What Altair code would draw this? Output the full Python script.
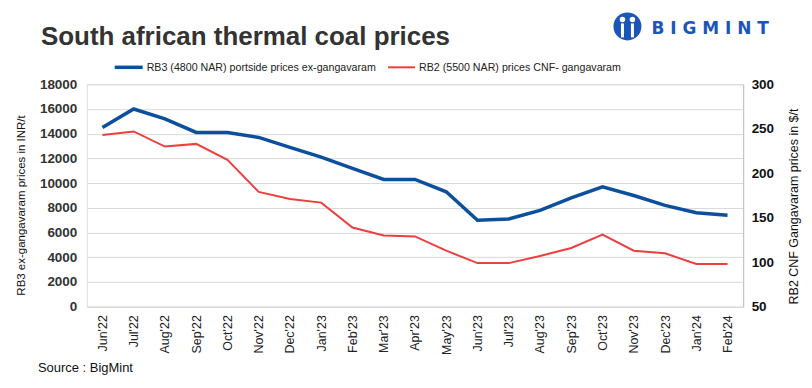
import altair as alt
import pandas as pd

months = ["Jun'22", "Jul'22", "Aug'22", "Sep'22", "Oct'22", "Nov'22", "Dec'22",
          "Jan'23", "Feb'23", "Mar'23", "Apr'23", "May'23", "Jun'23", "Jul'23",
          "Aug'23", "Sep'23", "Oct'23", "Nov'23", "Dec'23", "Jan'24", "Feb'24"]
rb3_inr = [14500, 16000, 15200, 14100, 14100, 13700, 12900, 12100, 11200, 10300, 10300,
           9300, 7000, 7100, 7800, 8800, 9700, 9000, 8200, 7600, 7400]
rb2_usd = [243, 247, 230, 233, 215, 179, 171, 167, 139, 130, 129,
           113, 99, 99, 107, 116, 131, 113, 110, 98, 98]
left_ticks = [0, 2000, 4000, 6000, 8000, 10000, 12000, 14000, 16000, 18000]
right_ticks = [50, 100, 150, 200, 250, 300]

BLUE = "#0B4F9E"
RED = "#EE3E3E"
GRID = "#D9D9D9"

df = pd.DataFrame({"month": months, "rb3": rb3_inr, "rb2": rb2_usd})
one = pd.DataFrame({"k": [0]})

W, H = 658, 223

xenc = alt.X("month:O", sort=months, scale=alt.Scale(padding=0.5),
             axis=alt.Axis(title=None, labelAngle=-90, labelFontSize=12.5,
                           labelColor="#222222", labelFont="Liberation Sans",
                           labelPadding=8, ticks=False, domain=True,
                           domainColor=GRID, grid=False))

blue = alt.Chart(df).mark_line(color=BLUE, strokeWidth=3.5).encode(
    x=xenc,
    y=alt.Y("rb3:Q", scale=alt.Scale(domain=[0, 18000], nice=False),
            axis=alt.Axis(title="RB3 ex-gangavaram prices in INR/t", values=left_ticks,
                          format="d",
                          orient="left", grid=True, gridColor=GRID, domain=False,
                          ticks=False, labelFontWeight="bold", labelFontSize=13.5,
                          labelColor="#333333", labelFont="Liberation Sans",
                          labelPadding=10, titleFontSize=11.5, titleFontWeight="normal",
                          titleColor="#111111", titleFont="Liberation Sans",
                          titleAngle=270, titleBaseline="middle",
                          titleX=-65, titleY=121)),
)

red = alt.Chart(df).mark_line(color=RED, strokeWidth=2).encode(
    x=xenc,
    y=alt.Y("rb2:Q", scale=alt.Scale(domain=[50, 300], nice=False),
            axis=alt.Axis(title="RB2 CNF Gangavaram prices in $/t", values=right_ticks,
                          orient="right", grid=False, domain=True, domainColor="#BFBFBF",
                          ticks=False, labelFontWeight="bold", labelFontSize=13.5,
                          labelColor="#111111", labelFont="Liberation Sans",
                          labelPadding=8, titleFontSize=12.5, titleFontWeight="normal",
                          titleColor="#111111", titleFont="Liberation Sans",
                          titleAngle=270, titleBaseline="middle",
                          titleX=50, titleY=122)),
)


def txt(s, x, y, size, weight="normal", color="#333333", font="Liberation Sans",
        align="left"):
    return alt.Chart(one).mark_text(
        text=s, align=align, baseline="alphabetic", fontSize=size,
        fontWeight=weight, color=color, font=font,
    ).encode(x=alt.value(x), y=alt.value(y))


def seg(x1, x2, y, color, w):
    return alt.Chart(one).mark_rule(color=color, strokeWidth=w).encode(
        x=alt.value(x1), x2=alt.value(x2), y=alt.value(y))


title = txt("South african thermal coal prices", -46, -39, 26, "bold", "#333333")
leg1 = seg(28, 56, -17, BLUE, 3.5)
leg1t = txt("RB3 (4800 NAR) portside prices ex-gangavaram", 60, -13, 10.7, color="#222222")
leg2 = seg(302, 329, -17, RED, 2)
leg2t = txt("RB2 (5500 NAR) prices CNF- gangavaram", 333, -13, 10.7, color="#222222")
source = txt("Source : BigMint", -49, 288, 13, color="#111111")

logo_circle = alt.Chart(one).mark_point(filled=True, shape="circle", size=784,
                                        color="#1A56B8", opacity=1).encode(
    x=alt.value(542), y=alt.value(-58))
head1 = alt.Chart(one).mark_point(filled=True, shape="circle", size=30,
                                  color="white", opacity=1).encode(
    x=alt.value(537), y=alt.value(-65))
head2 = alt.Chart(one).mark_point(filled=True, shape="circle", size=30,
                                  color="white", opacity=1).encode(
    x=alt.value(547), y=alt.value(-65))
body1b = alt.Chart(one).mark_rule(color="white", strokeWidth=3).encode(
    x=alt.value(537), y=alt.value(-61), y2=alt.value(-47))
body2b = alt.Chart(one).mark_rule(color="white", strokeWidth=3).encode(
    x=alt.value(547), y=alt.value(-61), y2=alt.value(-47))
logo_text = txt("B I G M I N T", 566, -50, 17, "bold", "#1A56B8", font="DejaVu Sans")

chart = alt.layer(
    blue, red, title, leg1, leg1t, leg2, leg2t, source,
    logo_circle, head1, head2, body1b, body2b, logo_text,
).resolve_scale(y="independent").properties(
    width=W, height=H,
    autosize=alt.AutoSizeParams(type="none"),
    padding={"left": 79, "top": 76, "right": 61, "bottom": 70},
).configure_view(stroke=None).configure(background="white")

chart.save("out.html", embed_options={"renderer": "svg", "actions": False})
